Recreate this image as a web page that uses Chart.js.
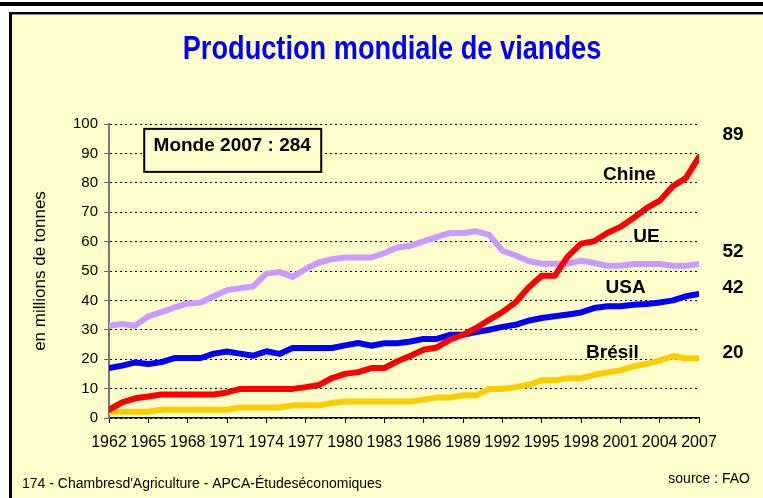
<!DOCTYPE html>
<html>
<head>
<meta charset="utf-8">
<script src="https://cdn.jsdelivr.net/npm/chart.js@4.4.0/dist/chart.umd.min.js"></script>
<style>
  html, body { margin: 0; padding: 0; background: #fff; }
  #wrap { width: 763px; height: 498px; }
</style>
</head>
<body>
<div id="wrap"><canvas id="myChart" width="763" height="498"></canvas></div>
<script>
// world meat production, millions of tonnes (FAO)
const years = [1962, 1963, 1964, 1965, 1966, 1967, 1968, 1969, 1970, 1971, 1972, 1973, 1974, 1975, 1976, 1977,
  1978, 1979, 1980, 1981, 1982, 1983, 1984, 1985, 1986, 1987, 1988, 1989, 1990, 1991, 1992,
  1993, 1994, 1995, 1996, 1997, 1998, 1999, 2000, 2001, 2002, 2003, 2004, 2005, 2006, 2007];

const chine = [2.8, 5.3, 6.7, 7.3, 8, 8, 8, 8, 8, 8.7, 9.9, 9.9, 9.9, 9.9, 9.9, 10.5,
  11.2, 13.6, 15, 15.6, 17, 17, 19.3, 21.2, 23.2, 24, 26.6, 28.3, 30.6, 33.4, 36,
  39.3, 44.4, 48.4, 48.4, 55, 59.3, 60.1, 62.9, 65, 68, 71.4, 73.9, 78.8, 81.6, 88.8];

const ue = [31.4, 32, 31.4, 34.6, 36, 37.6, 38.9, 39.3, 41.4, 43.5, 44.1, 44.8, 49.1, 49.7, 48, 50.7,
  52.9, 54, 54.6, 54.6, 54.6, 56.1, 58, 58.6, 60.1, 61.6, 62.9, 62.9, 63.5, 62.3, 56.9,
  55.3, 53.4, 52.5, 52.5, 52.5, 53.5, 52.7, 51.8, 51.8, 52.4, 52.4, 52.4, 51.8, 51.8, 52.4];

const usa = [17, 17.8, 18.9, 18.4, 19, 20.4, 20.4, 20.4, 21.9, 22.6, 21.9, 21.2, 22.7, 21.8, 23.8, 23.8,
  23.8, 23.8, 24.7, 25.5, 24.6, 25.4, 25.4, 26, 26.9, 26.9, 28.3, 28.3, 29.2, 30, 31,
  31.7, 33.1, 34, 34.6, 35.2, 35.9, 37.4, 38, 38, 38.5, 38.8, 39.3, 40, 41.4, 42.2];

const bresil = [2.1, 2.1, 2.1, 2.1, 2.8, 2.8, 2.8, 2.8, 2.8, 2.8, 3.6, 3.6, 3.6, 3.6, 4.3, 4.3,
  4.3, 5.1, 5.6, 5.6, 5.6, 5.6, 5.6, 5.6, 6.2, 7, 7, 7.7, 7.7, 9.9, 9.9,
  10.5, 11.3, 12.8, 12.8, 13.5, 13.5, 14.7, 15.5, 16.2, 17.6, 18.4, 19.6, 21, 20.3, 20.3];

const xTicks = [1962, 1965, 1968, 1971, 1974, 1977, 1980, 1983, 1986, 1989, 1992, 1995, 1998, 2001, 2004, 2007];
const yTicks = [0, 10, 20, 30, 40, 50, 60, 70, 80, 90, 100];
const monde2007 = 284;

const narrow = "'Liberation Sans Narrow', 'Arial Narrow', 'Liberation Sans', Arial, sans-serif";
const arial = "'Liberation Sans', Arial, sans-serif";

function pts(vals) {
  return vals.map((v, i) => ({ x: years[i], y: v }));
}

// where the series names and last values sit, in data units
const tags = [
  { name: 'Chine', vals: chine, at: [2001.7, 82.7], end: 96.3 },
  { name: 'UE', vals: ue, at: [2003.0, 61.6], end: 56.5 },
  { name: 'USA', vals: usa, at: [2001.4, 44.3], end: 44.3 },
  { name: 'Brésil', vals: bresil, at: [2000.4, 22.2], end: 22.2 }
];

const decor = {
  id: 'decor',
  beforeDraw(chart) {
    const c = chart.ctx;
    c.save();
    c.fillStyle = '#fff';
    c.fillRect(0, 0, 763, 498);
    c.fillStyle = '#000';
    c.fillRect(0, 2, 763, 4);
    c.fillStyle = '#FFFFCC';
    c.fillRect(9, 12, 754, 486);
    c.fillStyle = '#000';
    c.fillRect(9, 12, 3, 486);
    c.fillRect(9, 12, 754, 2);
    c.fillStyle = '#888';
    c.fillRect(12, 14, 751, 1);
    c.restore();
  },
  afterDraw(chart) {
    const c = chart.ctx;
    const xs = chart.scales.x, ys = chart.scales.y;
    c.save();
    // title, squeezed like a narrow face
    c.fillStyle = '#0000FF';
    c.font = 'bold 34px ' + arial;
    c.textAlign = 'center';
    c.textBaseline = 'middle';
    c.save();
    c.translate(392, 50);
    c.scale(0.8, 1);
    c.fillText('Production mondiale de viandes', 0, 0);
    c.restore();

    // world total box
    const bx = xs.getPixelForValue(1971.4), by = ys.getPixelForValue(91.2);
    c.fillStyle = '#FFFFCC';
    c.fillRect(bx - 88, by - 21, 177, 43);
    c.strokeStyle = '#000';
    c.lineWidth = 2;
    c.strokeRect(bx - 88, by - 21, 177, 43);
    c.fillStyle = '#000';
    c.font = 'bold 19px ' + arial;
    c.fillText('Monde 2007 : ' + monde2007, bx, by - 4);

    // series names and last values
    tags.forEach(t => {
      c.fillText(t.name, xs.getPixelForValue(t.at[0]), ys.getPixelForValue(t.at[1]));
      const last = Math.round(t.vals[t.vals.length - 1]);
      c.fillText(String(last), xs.getPixelForValue(2009.6), ys.getPixelForValue(t.end));
    });

    // footer
    c.font = '14px ' + arial;
    c.textAlign = 'left';
    c.fillText("174 - Chambresd'Agriculture - APCA-Étudeséconomiques", 22, 484);
    c.textAlign = 'right';
    c.fillText('source : FAO', 750, 479);
    c.restore();
  }
};

const ctx = document.getElementById('myChart');

new Chart(ctx, {
  type: 'line',
  data: {
    datasets: [
      { label: 'Chine', data: pts(chine), borderColor: '#FF0000' },
      { label: 'UE', data: pts(ue), borderColor: '#CC99FF' },
      { label: 'USA', data: pts(usa), borderColor: '#0000FF' },
      { label: 'Brésil', data: pts(bresil), borderColor: '#FFCC00' }
    ]
  },
  options: {
    responsive: false,
    animation: false,
    layout: { padding: { top: 124, right: 64, bottom: 0, left: 0 } },
    elements: {
      line: { borderWidth: 6, tension: 0, borderCapStyle: 'round', borderJoinStyle: 'round' },
      point: { radius: 0 }
    },
    plugins: {
      legend: { display: false },
      title: { display: false },
      tooltip: { enabled: false }
    },
    scales: {
      x: {
        type: 'linear',
        min: 1962,
        max: 2007,
        afterBuildTicks: s => { s.ticks = xTicks.map(v => ({ value: v })); },
        afterFit: s => { s.height = 80; },
        ticks: {
          color: '#000',
          font: { family: narrow, size: 16 },
          padding: 10,
          maxRotation: 0,
          autoSkip: false,
          callback: v => String(v)
        },
        grid: { drawOnChartArea: false, drawTicks: true, tickLength: 5, tickColor: '#000' },
        border: { color: '#000', width: 1.5 }
      },
      y: {
        min: 0,
        max: 100,
        afterBuildTicks: s => { s.ticks = yTicks.map(v => ({ value: v })); },
        afterFit: s => { s.width = 109; },
        ticks: {
          color: '#000',
          font: { family: narrow, size: 15 },
          padding: 6
        },
        grid: {
          color: '#000',
          lineWidth: 1,
          tickLength: 5,
          tickColor: '#666',
          tickBorderDash: []
        },
        border: { color: '#777', width: 2, dash: [2, 3] },
        title: {
          display: true,
          text: 'en millions de tonnes',
          color: '#000',
          font: { family: arial, size: 17 },
          padding: { top: 30, bottom: 0 }
        }
      }
    }
  },
  plugins: [decor]
});
</script>
</body>
</html>
